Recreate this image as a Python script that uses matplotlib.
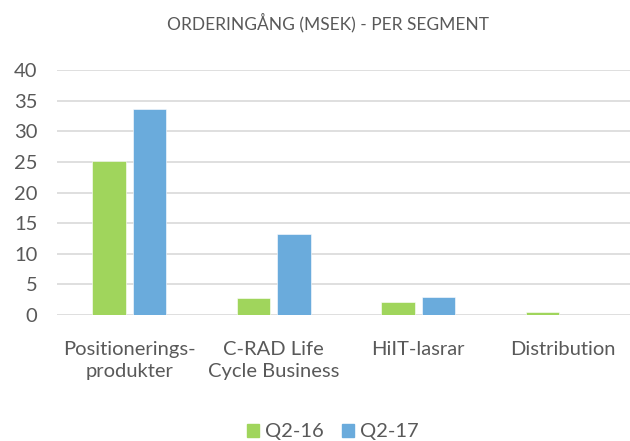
import numpy as np
import matplotlib
matplotlib.use("Agg")
from matplotlib import pyplot as plt
from matplotlib.patches import Patch

categories = ["Positionerings-\nprodukter", "C-RAD Life\nCycle Business", "HiIT-lasrar", "Distribution"]
q2_16 = [25.2, 2.7, 2.2, 0.45]
q2_17 = [33.7, 13.2, 3.0, 0.0]
series_names = ["Q2-16", "Q2-17"]
y_ticks = [0, 5, 10, 15, 20, 25, 30, 35, 40]

green = "#A0D55C"
blue = "#6AABDC"
text_col = "#595959"

plt.rcParams['font.family'] = ['Lato', 'DejaVu Sans']

fig = plt.figure(figsize=(6.3, 4.41), dpi=100)
ax = fig.add_axes([57 / 630, 1 - 315 / 441, 1 - 57 / 630, 245 / 441])

x = np.arange(len(categories))
w = 0.23
off = 0.14
ax.bar(x - off, q2_16, w, color=green, edgecolor="white", linewidth=0.4, zorder=3)
ax.bar(x + off, q2_17, w, color=blue, edgecolor="white", linewidth=0.4, zorder=3)

ax.set_xlim(-0.5, -0.5 + (630 - 57) / 144.5)
ax.set_ylim(0, 40)
ax.set_yticks(y_ticks)
ax.set_xticks(x)
ax.set_xticklabels(categories, fontsize=14.5, color=text_col, linespacing=1.35)
ax.tick_params(axis="y", length=0, pad=14, labelsize=14.5, labelcolor=text_col)
ax.tick_params(axis="x", length=0, pad=19)
ax.grid(axis="y", color="#D9D9D9", linewidth=1.2, zorder=0)
for s in ax.spines.values():
    s.set_visible(False)

fig.text(0.52, 1 - 23 / 441, "ORDERINGÅNG (MSEK) - PER SEGMENT", ha="center", va="center",
         fontsize=12.5, color=text_col)

handles = [Patch(color=green), Patch(color=blue)]
fig.legend(handles, series_names, loc="center", bbox_to_anchor=(333 / 630, 1 - 432 / 441), ncol=2,
           frameon=False, fontsize=14.5, labelcolor=text_col, handlelength=0.6, handleheight=0.6,
           handletextpad=0.3, columnspacing=0.9)

fig.savefig("out.png", dpi=100)
